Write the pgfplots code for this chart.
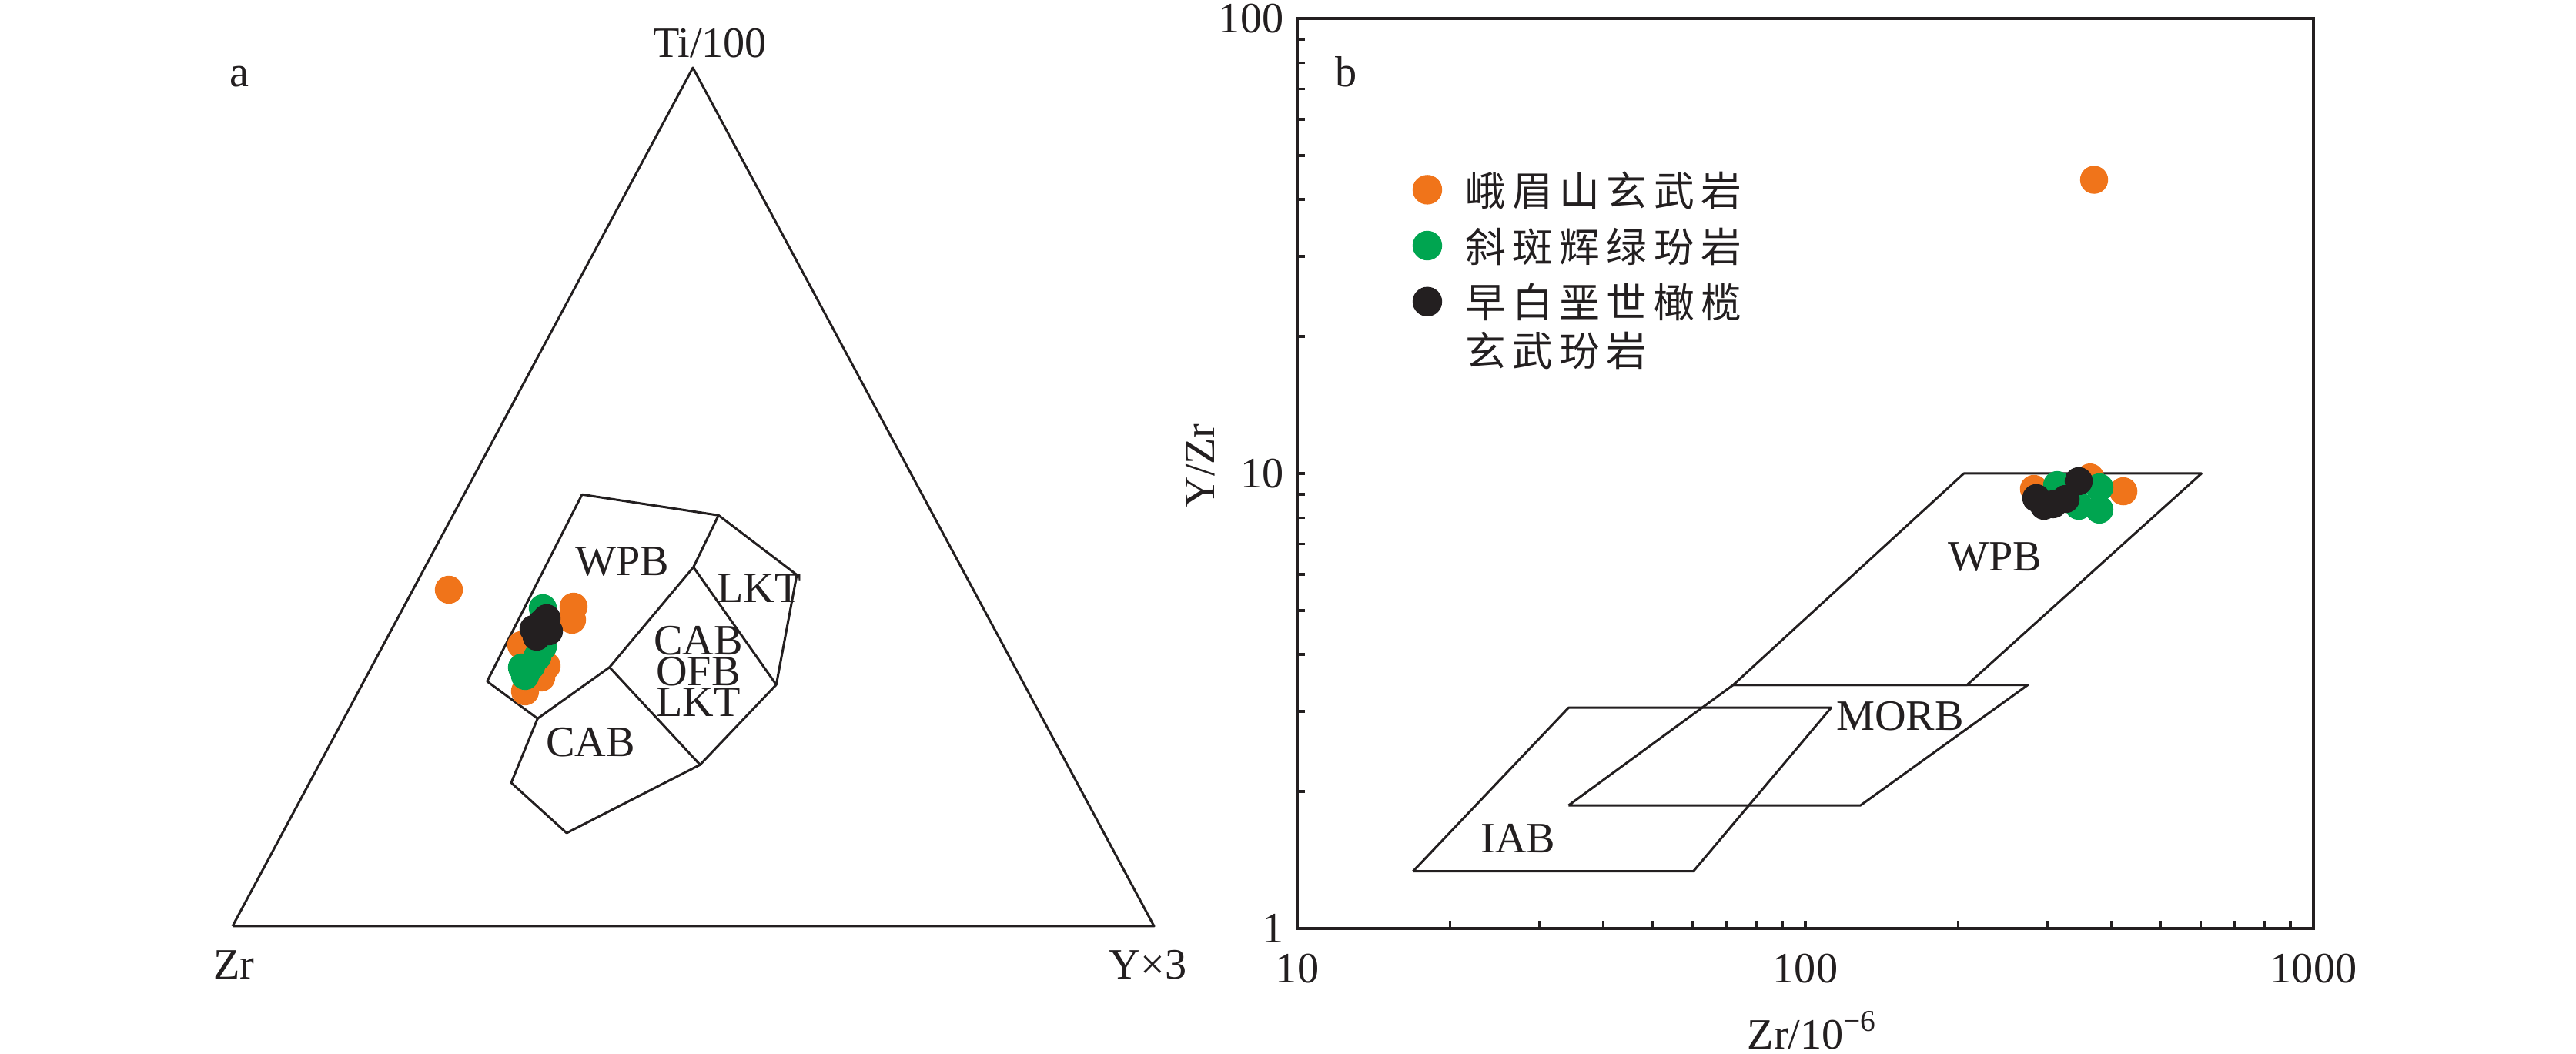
\documentclass[border=0pt]{standalone}
\usepackage{pgfplots}
\pgfplotsset{compat=1.18}
\usepackage{fontspec}
\setmainfont{Liberation Serif}
\newfontfamily\cjk[LetterSpace=16]{Noto Sans CJK SC}
\definecolor{orng}{RGB}{240,116,26}
\definecolor{grn}{RGB}{0,165,80}
\definecolor{blk}{RGB}{35,31,32}
\begin{document}
\begin{tikzpicture}[font=\fontsize{16}{19}\selectfont, text=blk,
  lbl/.style={anchor=base, inner sep=0pt, text height=0.66em, text depth=0pt}]
\useasboundingbox (0,0) rectangle (334.6mm,136.9mm);
% ---------------- (a) ternary Ti/100 - Zr - Yx3 (drawn in picture units) -------------
\begin{axis}[
  at={(0mm,0mm)}, anchor=south west, scale only axis,
  width=334.6mm, height=136.9mm,
  xmin=0, xmax=3346, ymin=0, ymax=1369,
  hide axis, clip=false,
]
\addplot[blk, line width=0.3mm, line join=round] coordinates {(302,166) (900,1281) (1499,166) (302,166)};
\addplot[blk, line width=0.3mm, line join=round] coordinates {(756,726.7) (933.3,699.7) (1035,622.3) (1008.3,479.7) (909.3,375.7) (736,287) (664,352.3) (698.3,435.7) (632.7,484) (756,726.7)};
\addplot[blk, line width=0.3mm, line join=round] coordinates {(933.3,699.7) (900.7,632.3) (791.7,502.3) (698.3,435.7)};
\addplot[blk, line width=0.3mm] coordinates {(900.7,632.3) (1008.3,479.7)};
\addplot[blk, line width=0.3mm] coordinates {(791.7,502.3) (909.3,375.7)};
% data
\addplot[only marks, mark=*, orng, mark size=1.75mm] coordinates {
 (583,603) (745,581) (743,564) (677,531) (710,504) (703,489) (682,471)};
\addplot[only marks, mark=*, grn, mark size=1.75mm] coordinates {
 (705,579) (705,529) (698,516) (690,504) (678,502) (682,491)};
\addplot[only marks, mark=*, blk, mark size=1.75mm] coordinates {
 (710,566) (703,559) (713,549) (693,552) (697,542) (706,556)};
\node[lbl] at (axis cs:922,1294) {Ti/100};
\node[lbl] at (axis cs:311,1256) {a};
\node[lbl] at (axis cs:304,97) {Zr};
\node[lbl] at (axis cs:1491,97) {Y×3};
\node[lbl] at (axis cs:808,621) {WPB};
\node[lbl] at (axis cs:986,586) {LKT};
\node[anchor=center, inner sep=0pt, align=center, font=\fontsize{16}{11.4}\selectfont] at (axis cs:907,497.5) {CAB\\OFB\\LKT};
\node[lbl] at (axis cs:767,386) {CAB};
\end{axis}
% ---------------- (b) Y/Zr vs Zr -------------
\begin{axis}[
  at={(168.5mm,16.3mm)}, anchor=south west, scale only axis,
  width=132mm, height=118.2mm,
  xmode=log, ymode=log,
  xmin=10, xmax=1000, ymin=1, ymax=100,
  xtick={10,100,1000}, xticklabels={10,100,1000},
  ytick={1,10,100}, yticklabels={1,10,100},
  minor xtick={20,30,40,50,60,70,80,90,200,300,400,500,600,700,800,900},
  minor ytick={2,3,4,5,6,7,8,9,20,30,40,50,60,70,80,90},
  tick pos=left, tick align=inside,
  major tick length=1mm, minor tick length=1mm,
  every tick/.style={blk, line width=0.35mm},
  axis line style={blk, line width=0.4mm},
  xticklabel style={anchor=base, yshift=-7.1mm},
  yticklabel style={anchor=east, inner sep=0pt, xshift=-1.7mm},
  xlabel={Zr/10\textsuperscript{−6}},
  ylabel={Y/Zr},
  xlabel style={at={(axis description cs:0.5068,-0.132)}, anchor=base},
  ylabel style={at={(axis description cs:-0.0818,0.5085)}, anchor=base},
  clip=false,
  legend style={draw=none, fill=none, at={(axis description cs:0.114,0.8317)}, anchor=north west,
    inner sep=0pt, outer sep=0pt, row sep=2.3mm,
    font=\cjk\fontsize{15}{17}\selectfont,
    nodes={inner sep=0pt, anchor=base west},
    /tikz/every odd column/.append style={column sep=3.1mm}},
  legend cell align=left,
  legend image code/.code={\draw[#1, mark size=1.85mm] plot coordinates {(0mm,2.1mm)};},
]
\addplot[only marks, mark=*, orng, mark size=1.75mm] coordinates {
 (370,44.2) (281.8,9.25) (363.5,9.80) (422.5,9.14)};
\addlegendentry{峨眉山玄武岩}
\addplot[only marks, mark=*, grn, mark size=1.75mm] coordinates {
 (313,9.43) (345.1,8.49) (379,9.32) (379,8.33)};
\addlegendentry{斜斑辉绿玢岩}
\addplot[only marks, mark=*, blk, mark size=1.75mm] coordinates {
 (284.8,8.83) (294.9,8.49) (307.5,8.56) (325.2,8.79) (345.1,9.62)};
\addlegendentry{\begin{tabular}[t]{@{}l@{}}早白垩世橄榄\\玄武玢岩\end{tabular}}
\addplot[blk, line width=0.3mm, line join=round] coordinates {(72.1,3.43) (205,10) (602,10) (208,3.43) (72.1,3.43)};
\addplot[blk, line width=0.3mm, line join=round] coordinates {(34.2,1.865) (72.1,3.43) (274,3.43) (128.4,1.865) (34.2,1.865)};
\addplot[blk, line width=0.3mm, line join=round] coordinates {(16.9,1.336) (34.2,3.057) (112.4,3.057) (60.2,1.336) (16.9,1.336)};
\node[lbl] at (axis cs:12.46,70.7) {b};
\node[lbl] at (axis cs:236,6.12) {WPB};
\node[lbl] at (axis cs:153.6,2.73) {MORB};
\node[lbl] at (axis cs:27.2,1.465) {IAB};
\end{axis}
\end{tikzpicture}
\end{document}
